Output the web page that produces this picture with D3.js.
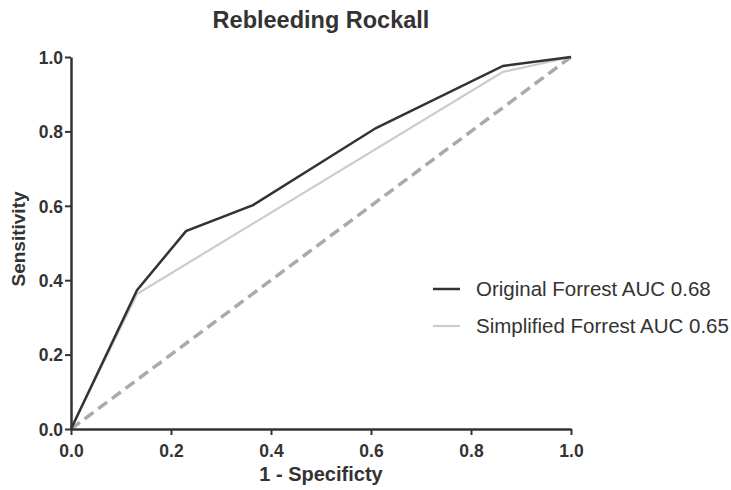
<!DOCTYPE html>
<html>
<head>
<meta charset="utf-8">
<script src="https://cdn.jsdelivr.net/npm/d3@7"></script>
<style>
  body { margin: 0; background: #fff; }
  svg { display: block; font-family: "Liberation Sans", Arial, sans-serif; }
</style>
</head>
<body>
<svg id="chart" width="731" height="490"></svg>
<script>
// ROC curve points: [1 - specificity, sensitivity]
const originalForrest = [[0, 0], [0.132, 0.373], [0.23, 0.532], [0.364, 0.602], [0.61, 0.809], [0.864, 0.976], [1, 1]];
const simplifiedForrest = [[0, 0], [0.132, 0.363], [0.864, 0.96], [1, 1]];
const referenceLine = [[0, 0], [1, 1]];
const tickValues = [0, 0.2, 0.4, 0.6, 0.8, 1.0];
const seriesNames = ["Original Forrest AUC 0.68", "Simplified Forrest AUC 0.65"];

const svg = d3.select("#chart");
const margin = { left: 71, right: 160, top: 57, bottom: 61 };
const W = 731, H = 490;

const x = d3.scaleLinear().domain([0, 1]).range([margin.left, W - margin.right]);
const y = d3.scaleLinear().domain([0, 1]).range([H - margin.bottom, margin.top]);

const line = d3.line().x(d => x(d[0])).y(d => y(d[1]));

// Chance diagonal
svg.append("path").datum(referenceLine).attr("d", line)
  .attr("fill", "none").attr("stroke", "#aaaaaa").attr("stroke-width", 3.5)
  .attr("stroke-dasharray", "11,6");

// Simplified Forrest curve
svg.append("path").datum(simplifiedForrest).attr("d", line)
  .attr("fill", "none").attr("stroke", "#cccccc").attr("stroke-width", 2.2);

// Original Forrest curve
svg.append("path").datum(originalForrest).attr("d", line)
  .attr("fill", "none").attr("stroke", "#333333").attr("stroke-width", 2.5);

// Axes
const fmt = d3.format(".1f");
const xAxis = svg.append("g").attr("transform", `translate(0,${y(0)})`)
  .call(d3.axisBottom(x).tickValues(tickValues).tickFormat(fmt).tickSize(6).tickSizeOuter(0));
const yAxis = svg.append("g").attr("transform", `translate(${x(0)},0)`)
  .call(d3.axisLeft(y).tickValues(tickValues).tickFormat(fmt).tickSize(6).tickSizeOuter(0));

[xAxis, yAxis].forEach(g => {
  g.attr("font-family", null).attr("font-size", null);
  g.select(".domain").attr("stroke", "#333").attr("stroke-width", 2.5);
  g.selectAll(".tick line").attr("stroke", "#333").attr("stroke-width", 2);
  g.selectAll(".tick text").attr("fill", "#333").style("font-size", "17.5px").style("font-weight", "bold");
});
xAxis.selectAll(".tick text").attr("y", 28).attr("dy", 0);
yAxis.selectAll(".tick text").attr("x", -8).attr("dy", "0.36em");

// Title
svg.append("text").attr("x", x(0.5)).attr("y", 28).attr("text-anchor", "middle")
  .attr("fill", "#333").style("font-size", "23.5px").style("font-weight", "bold")
  .text("Rebleeding Rockall");

// Axis titles
svg.append("text").attr("x", x(0.5)).attr("y", 481).attr("text-anchor", "middle")
  .attr("fill", "#333").style("font-size", "20px").style("font-weight", "bold")
  .text("1 - Specificty");
svg.append("text").attr("transform", `translate(25,239) rotate(-90)`)
  .attr("text-anchor", "middle")
  .attr("fill", "#333").style("font-size", "19px").style("font-weight", "bold")
  .text("Sensitivity");

// Legend
const legendColors = ["#333333", "#cccccc"];
const legendWidths = [2.5, 2.2];
const legend = svg.append("g");
seriesNames.forEach((name, i) => {
  const ly = 289 + i * 37;
  legend.append("line").attr("x1", 433).attr("x2", 460).attr("y1", ly).attr("y2", ly)
    .attr("stroke", legendColors[i]).attr("stroke-width", legendWidths[i]);
  legend.append("text").attr("x", 476).attr("y", ly).attr("dy", "0.36em")
    .attr("fill", "#333").style("font-size", "20.5px")
    .text(name);
});
</script>
</body>
</html>
